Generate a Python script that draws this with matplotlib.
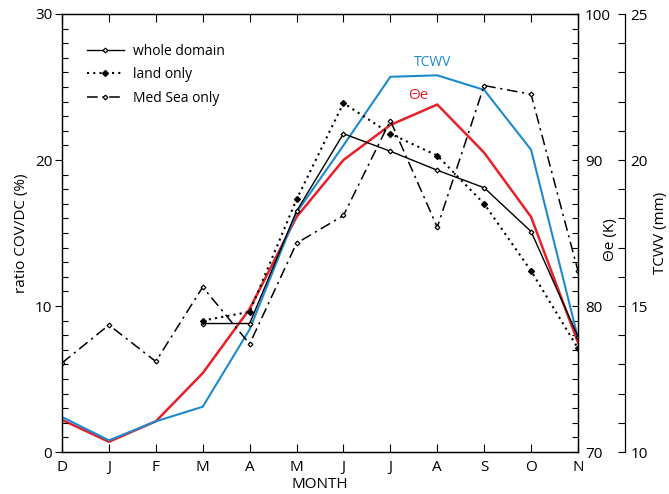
import matplotlib
matplotlib.use('Agg')
import matplotlib.pyplot as plt
from matplotlib.ticker import MultipleLocator

plt.rcParams['font.family'] = ['Open Sans', 'DejaVu Sans']

# month order used in the figure (December first)
months = ['D', 'J', 'F', 'M', 'A', 'M', 'J', 'J', 'A', 'S', 'O', 'N']
x = list(range(len(months)))

# ratio COV/DC (%) -- whole domain and land only start in March
whole_x = x[3:]
whole_domain = [8.8, 8.8, 16.5, 21.8, 20.6, 19.3, 18.1, 15.1, 7.9]
land_x = x[3:]
land_only = [9.0, 9.6, 17.3, 23.9, 21.8, 20.3, 17.0, 12.4, 7.1]
sea_only = [6.1, 8.7, 6.2, 11.3, 7.4, 14.3, 16.2, 22.7, 15.4, 25.1, 24.5, 12.4]

# theta-e (K) and total column water vapour (mm)
theta_e = [72.2, 70.7, 72.1, 75.4, 79.8, 86.1, 90.0, 92.4, 93.8, 90.5, 86.1, 77.5]
tcwv = [11.2, 10.4, 11.05, 11.55, 14.2, 18.2, 20.5, 22.85, 22.9, 22.4, 20.35, 13.9]

BLUE = '#1b8bd0'
RED = '#e8202a'

fig = plt.figure(figsize=(6.69, 4.94), dpi=100)
ax = fig.add_axes([62 / 669, 42 / 494, 516 / 669, 438 / 494])

# theta-e and TCWV axes
ax2 = ax.twinx()
ax3 = ax.twinx()
ax3.spines['right'].set_position(('axes', 563 / 516))

ax2.plot(x, theta_e, color=RED, lw=1.8, zorder=3)
ax3.plot(x, tcwv, color=BLUE, lw=1.5, zorder=3)

ax.set_zorder(ax3.get_zorder() + 1)
ax.patch.set_visible(False)

ax.plot(whole_x, whole_domain, color='black', lw=1.0, marker='D', ms=2.4,
        mfc='white', mec='black', mew=0.9, label='whole domain')
ax.plot(land_x, land_only, color='black', lw=1.5, ls=(0, (1, 2)), marker='D',
        ms=3, mfc='black', mec='black', label='land only')
ax.plot(x, sea_only, color='black', lw=1.1, ls=(0, (7, 3, 1.5, 3)), marker='D',
        ms=2.4, mfc='white', mec='black', mew=0.9, label='Med Sea only')

ax.set_xlim(0, 11)
ax.set_ylim(0, 30)
ax2.set_ylim(70, 100)
ax3.set_ylim(10, 25)

ax.set_xticks(x)
ax.set_xticklabels(months)
ax.tick_params(axis='x', direction='in', length=6, width=0.8, top=True,
               labelsize=11, pad=6)
ax.yaxis.set_major_locator(MultipleLocator(10))
ax.yaxis.set_minor_locator(MultipleLocator(1))
ax.tick_params(axis='y', which='major', direction='out', length=5, width=0.8,
               labelsize=11, pad=2)
ax.tick_params(axis='y', which='minor', direction='in', length=4, width=0.8)

ax2.yaxis.set_major_locator(MultipleLocator(10))
ax2.yaxis.set_minor_locator(MultipleLocator(1))
ax2.tick_params(axis='y', which='both', direction='in', length=4, width=0.8,
                labelsize=11, pad=5)

ax3.yaxis.set_major_locator(MultipleLocator(5))
ax3.yaxis.set_minor_locator(MultipleLocator(1))
ax3.tick_params(axis='y', which='both', direction='in', length=5, width=0.8,
                labelsize=11, pad=4)

for a in (ax, ax2, ax3):
    for s in a.spines.values():
        s.set_linewidth(0.9)
for s in ('top', 'bottom', 'left'):
    ax3.spines[s].set_visible(False)

ax.set_xlabel('MONTH', fontsize=11, labelpad=1)
ax.set_ylabel('ratio COV/DC (%)', fontsize=11, labelpad=4)
ax2.set_ylabel('\u0398e (K)', fontsize=11)
ax2.yaxis.set_label_coords(541 / 516, 0.484)
ax3.set_ylabel('TCWV (mm)', fontsize=11, labelpad=4)

ax.text(7.89, 26.7, 'TCWV', color=BLUE, fontsize=10, ha='center', va='center')
ax.text(7.59, 24.4, '\u0398e', color=RED, fontsize=11, ha='center', va='center')

ax.legend(loc='upper left', bbox_to_anchor=(0.025, 0.96), frameon=False,
          fontsize=10, handlelength=2.6, handletextpad=0.7, labelspacing=0.6,
          numpoints=1)

fig.savefig('out.png', dpi=100)
